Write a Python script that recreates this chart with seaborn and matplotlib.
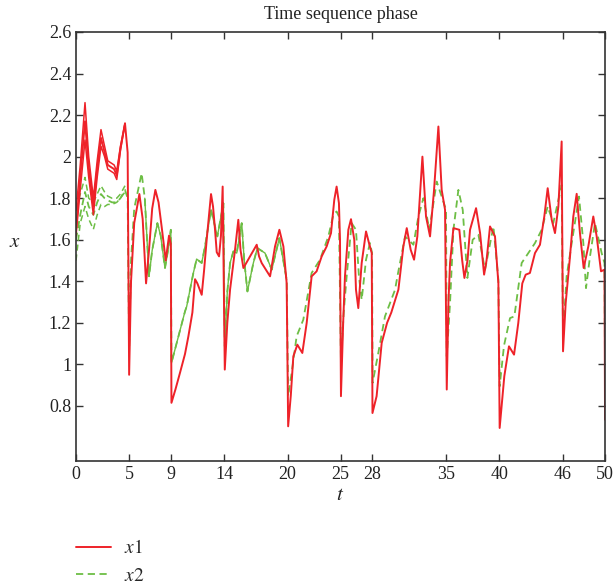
import matplotlib
matplotlib.use("Agg")
import matplotlib.pyplot as plt
import pandas as pd
import seaborn as sns

# main trajectories
t_x1 = [0, 0.4, 0.85, 1.2, 1.64, 2.0, 2.36, 2.7, 3.0, 3.3, 3.6, 3.85, 4.2, 4.63, 4.88, 5.02,
        5.2, 5.5, 5.99, 6.3, 6.62, 6.9, 7.2, 7.5, 7.8, 8.1, 8.48, 8.79, 8.96, 9.02,
        9.4, 9.83, 10.3, 10.62, 11.0, 11.25, 11.47, 11.88, 12.1, 12.35, 12.76, 12.95, 13.14, 13.3,
        13.52, 13.7, 13.86, 14.06, 14.3, 14.56, 15.03, 15.34, 15.55, 15.82, 16.45, 17.08, 17.3,
        17.55, 18.34, 18.81, 19.22, 19.6, 19.91, 20.05,
        20.3, 20.54, 20.92, 21.39, 21.8, 22.27, 22.74, 23.22, 23.69, 24.1, 24.41, 24.63, 24.85,
        24.95, 25.04, 25.25, 25.42, 25.74, 25.99, 26.3, 26.46, 26.68, 27.0, 27.41, 27.69, 27.95,
        28.02, 28.41, 28.89, 29.4, 29.8, 30.47, 30.94, 31.26, 31.63, 31.95, 32.26, 32.74, 33.08,
        33.46, 33.84, 34.25, 34.56, 34.88, 35.04, 35.2, 35.35, 35.67, 36.23, 36.5, 36.71, 37.0,
        37.24, 37.81, 38.19, 38.57, 38.8, 39.13, 39.6, 39.92, 40.04,
        40.48, 40.92, 41.4, 41.8, 42.18, 42.5, 42.9, 43.38, 43.85, 44.26, 44.58, 44.96, 45.27,
        45.59, 45.9, 46.03, 46.28, 46.69, 47.0, 47.32, 47.63, 47.98, 48.42, 48.89, 49.21, 49.62,
        49.95, 50.0]
x1 = [1.65, 1.90, 2.17, 1.95, 1.76, 1.94, 2.09, 2.02, 1.96, 1.95, 1.94, 1.91, 2.04, 2.16, 2.02, 0.95,
      1.40, 1.68, 1.82, 1.70, 1.39, 1.55, 1.75, 1.84, 1.78, 1.66, 1.50, 1.62, 1.58, 0.815,
      0.88, 0.96, 1.05, 1.135, 1.25, 1.41, 1.39, 1.335, 1.45, 1.60, 1.82, 1.76, 1.648, 1.54,
      1.52, 1.62, 1.856, 0.975, 1.20, 1.36, 1.552, 1.696, 1.55, 1.464, 1.52, 1.576, 1.52,
      1.488, 1.424, 1.568, 1.648, 1.568, 1.39, 0.702,
      0.85, 1.039, 1.095, 1.055, 1.199, 1.424, 1.448, 1.52, 1.568, 1.632, 1.792, 1.856, 1.776,
      1.60, 0.847, 1.20, 1.424, 1.648, 1.699, 1.60, 1.36, 1.271, 1.488, 1.64, 1.584, 1.536,
      0.766, 0.847, 1.103, 1.20, 1.25, 1.36, 1.568, 1.656, 1.552, 1.504, 1.616, 2.0, 1.712,
      1.616, 1.84, 2.145, 1.84, 1.744, 0.879, 1.30, 1.488, 1.656, 1.648, 1.50, 1.416, 1.50,
      1.648, 1.752, 1.632, 1.432, 1.50, 1.664, 1.616, 1.39, 0.694,
      0.943, 1.087, 1.047, 1.199, 1.39, 1.432, 1.44, 1.536, 1.576, 1.712, 1.848, 1.696, 1.632,
      1.76, 2.073, 1.063, 1.295, 1.52, 1.712, 1.821, 1.632, 1.464, 1.568, 1.712, 1.616, 1.448,
      1.456, 0.734]

t_x2 = [0, 0.4, 0.85, 1.2, 1.64, 2.0, 2.36, 2.7, 3.0, 3.4, 3.85, 4.2, 4.63, 4.88, 5.02,
        5.2, 5.5, 6.2, 6.5, 6.9, 7.2, 7.69, 8.0, 8.41, 8.7, 8.96, 9.02,
        9.5, 10.3, 10.46, 11.09, 11.4, 11.88, 12.19, 12.76, 13.36, 13.93, 14.06, 14.3, 14.56,
        14.87, 15.19, 15.66, 15.9, 16.2, 16.76, 17.14, 17.86, 18.5, 19.22, 19.91, 20.05,
        20.38, 20.85, 21.48, 22.27, 23.06, 23.85, 24.32, 24.63, 24.85, 25.04, 25.3, 25.58,
        26.05, 26.46, 26.74, 27.0, 27.41, 27.78, 27.98, 28.03, 28.57, 29.2, 30.15, 30.4, 31.1,
        31.89, 32.36, 32.83, 33.4, 34.09, 34.56, 34.97, 35.04, 35.35, 35.67, 36.14, 36.55,
        36.99, 37.49, 38.03, 38.66, 39.45, 39.92, 40.04, 40.45, 41.02, 41.43, 42.12, 43.38,
        44.01, 44.58, 45.11, 45.9, 46.03, 46.37, 46.85, 47.54, 47.95, 48.2, 48.58, 49.05,
        49.68, 49.95, 50.0]
x2 = [1.60, 1.72, 1.83, 1.76, 1.72, 1.78, 1.82, 1.80, 1.79, 1.78, 1.78, 1.80, 1.84, 1.80, 1.07,
      1.50, 1.75, 1.92, 1.80, 1.424, 1.55, 1.68, 1.62, 1.464, 1.55, 1.648, 1.007,
      1.10, 1.255, 1.279, 1.44, 1.507, 1.488, 1.568, 1.744, 1.616, 1.776, 1.087, 1.35, 1.488,
      1.544, 1.536, 1.68, 1.50, 1.351, 1.488, 1.56, 1.536, 1.456, 1.608, 1.407, 0.847,
      0.959, 1.135, 1.215, 1.44, 1.504, 1.616, 1.72, 1.736, 1.712, 1.007, 1.25, 1.424,
      1.68, 1.648, 1.424, 1.311, 1.504, 1.584, 1.536, 0.911, 1.055, 1.231, 1.359, 1.43, 1.616,
      1.576, 1.712, 1.80, 1.648, 1.88, 1.808, 1.744, 1.039, 1.295, 1.648, 1.84, 1.744,
      1.416, 1.60, 1.624, 1.456, 1.664, 1.407, 0.895, 1.09, 1.223, 1.231, 1.488, 1.584,
      1.648, 1.76, 1.68, 1.864, 1.135, 1.424, 1.584, 1.808, 1.584, 1.367, 1.52, 1.68,
      1.536, 1.488, 0.943]

# other starting trajectories (before they merge)
t_x1_start = [0, 0.4, 0.85, 1.2, 1.64, 2.0, 2.36, 2.7, 3.0, 3.3, 3.6, 3.85, 4.2, 4.63]
x1_hi = [1.74, 1.96, 2.26, 2.00, 1.80, 1.98, 2.13, 2.05, 1.98, 1.97, 1.96, 1.93, 2.05, 2.16]
x1_lo = [1.62, 1.84, 2.08, 1.90, 1.72, 1.90, 2.05, 2.00, 1.94, 1.93, 1.92, 1.89, 2.03, 2.16]
t_x2_start = [0, 0.4, 0.85, 1.2, 1.64, 2.0, 2.36, 2.7, 3.0, 3.4, 3.85, 4.2, 4.63]
x2_hi = [1.75, 1.82, 1.90, 1.80, 1.78, 1.82, 1.86, 1.83, 1.81, 1.80, 1.80, 1.82, 1.86]
x2_lo = [1.50, 1.68, 1.76, 1.70, 1.65, 1.72, 1.77, 1.76, 1.77, 1.77, 1.78, 1.80, 1.83]

xticks = [0, 5, 9, 14, 20, 25, 28, 35, 40, 46, 50]
yticks = [0.8, 1, 1.2, 1.4, 1.6, 1.8, 2, 2.2, 2.4, 2.6]
ytick_labels = ["0.8", "1", "1.2", "1.4", "1.6", "1.8", "2", "2.2", "2.4", "2.6"]

red = "#EE2229"
green = "#6DBE45"
dash = (0, (4, 2.5))

sns.set_style("ticks")
plt.rcParams["font.family"] = ["Liberation Serif", "DejaVu Serif"]
plt.rcParams["mathtext.fontset"] = "stix"

fig = plt.figure(figsize=(6.16, 5.86), dpi=100)
ax = fig.add_axes([0.1234, 0.2133, 0.8588, 0.7321])

df1 = pd.DataFrame({"t": t_x1, "x": x1})
df2 = pd.DataFrame({"t": t_x2, "x": x2})
# thin solid part where the x2 trajectories have not yet lined up
df2_mid = df2[(df2["t"] >= 6.5) & (df2["t"] <= 19.95)]

sns.lineplot(x=t_x2_start, y=x2_hi, ax=ax, color=green, lw=1.1,
             linestyle=dash, estimator=None, sort=False)
sns.lineplot(x=t_x2_start, y=x2_lo, ax=ax, color=green, lw=1.1,
             linestyle=dash, estimator=None, sort=False)
sns.lineplot(data=df2_mid, x="t", y="x", ax=ax, color=green, lw=1.0,
             estimator=None, sort=False)
sns.lineplot(data=df2, x="t", y="x", ax=ax, color=green, lw=1.3,
             linestyle=dash, estimator=None, sort=False, label="$x2$")
sns.lineplot(x=t_x1_start, y=x1_hi, ax=ax, color=red, lw=1.1, estimator=None, sort=False)
sns.lineplot(x=t_x1_start, y=x1_lo, ax=ax, color=red, lw=1.1, estimator=None, sort=False)
sns.lineplot(data=df1, x="t", y="x", ax=ax, color=red, lw=1.4,
             estimator=None, sort=False, label="$x1$")

ax.set_xlim(0, 50)
ax.set_ylim(0.535, 2.6)
ax.set_xticks(xticks)
ax.set_xticklabels([str(v) for v in xticks])
ax.set_yticks(yticks)
ax.set_yticklabels(ytick_labels)
ax.tick_params(direction="in", length=5, width=1, colors="#333333",
               labelsize=13, labelcolor="#222222", top=True, right=True,
               labeltop=False, labelright=False)
for s in ax.spines.values():
    s.set_visible(True)
    s.set_color("#333333")
    s.set_linewidth(1.2)

ax.set_title("Time sequence phase", fontsize=13, color="#222222", pad=9)
ax.set_xlabel("$t$", fontsize=15, color="#222222", labelpad=2)
ax.set_ylabel("$x$", fontsize=15, color="#222222", rotation=0, va="center")
ax.yaxis.set_label_coords(-0.115, 0.51)

ax.get_legend().remove()
handles, labels = ax.get_legend_handles_labels()
order = [labels.index("$x1$"), labels.index("$x2$")]
fig.legend([handles[i] for i in order], ["$x1$", "$x2$"], loc="upper left",
           bbox_to_anchor=(0.1234, 0.0795), frameon=False, fontsize=14,
           borderpad=0, borderaxespad=0,
           handlelength=1.8, handletextpad=0.67, labelspacing=0.5)

fig.savefig("out.png", dpi=100)
